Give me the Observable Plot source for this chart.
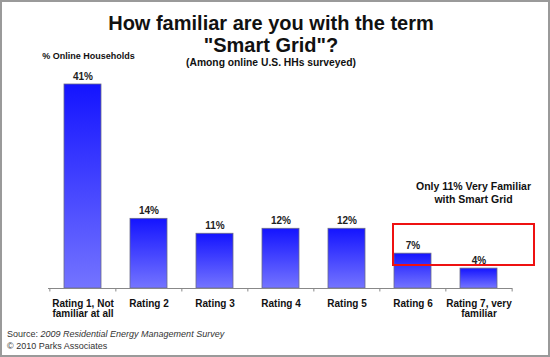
<!DOCTYPE html>
<html><head><meta charset="utf-8">
<script src="https://cdn.jsdelivr.net/npm/d3@7"></script>
<script src="https://cdn.jsdelivr.net/npm/@observablehq/plot@0.6"></script>
<style>
body{margin:0;background:#fff;}
#wrap{position:relative;width:550px;height:357px;overflow:hidden;font-family:"Liberation Sans",Arial,sans-serif;}
#frame{position:absolute;left:0;top:0;width:550px;height:357px;box-sizing:border-box;border:2px solid #9a9a9a;pointer-events:none;}
.t{position:absolute;white-space:nowrap;color:#111;}
#title{left:0;width:542px;top:12px;text-align:center;font-weight:bold;font-size:20px;line-height:22px;}
#sub{left:0;width:542px;top:57px;text-align:center;font-weight:bold;font-size:10.3px;line-height:12px;}
#ylab{left:40px;width:97px;top:51px;text-align:center;font-weight:bold;font-size:9px;}
#note{left:403px;width:141px;top:180px;text-align:center;font-weight:bold;font-size:10.5px;line-height:13px;}
#box{position:absolute;left:392px;top:223px;width:143px;height:43px;box-sizing:border-box;border:2px solid #ee1111;}
#src{left:7px;top:329px;font-size:9px;line-height:11.5px;color:#333;}
#chart{position:absolute;left:0;top:0;}
</style></head>
<body>
<div id="wrap">
  <div id="chart"></div>
  <div class="t" id="title">How familiar are you with the term<br>"Smart Grid"?</div>
  <div class="t" id="sub">(Among online U.S. HHs surveyed)</div>
  <div class="t" id="ylab">% Online Households</div>
  <div class="t" id="note">Only 11% Very Familiar<br>with Smart Grid</div>
  <div id="box"></div>
  <div class="t" id="src">Source: <i>2009 Residential Energy Management Survey</i><br>© 2010 Parks Associates</div>
  <div id="frame"></div>
</div>
<script>
const categories = ["Rating 1, Not\nfamiliar at all","Rating 2","Rating 3","Rating 4","Rating 5","Rating 6","Rating 7, very\nfamiliar"];
const values = [41, 14, 11, 12, 12, 7, 4];
const labels = ["41%","14%","11%","12%","12%","7%","4%"];

const data = categories.map((c,i)=>({cat:c, v:values[i], lab:labels[i]}));
const W = 550, H = 357, mL = 48, mR = 38;
const band = (W - mL - mR) / categories.length;

const plot = Plot.plot({
  width: W, height: H,
  marginTop: 84, marginBottom: 69, marginLeft: mL, marginRight: mR,
  style: {fontFamily: '"Liberation Sans", Arial, sans-serif', background: "transparent"},
  x: {domain: categories, paddingInner: 0.44, paddingOuter: 0.22, align: 0.5, label: null},
  y: {domain: [0, 41], axis: null},
  marks: [
    Plot.barY(data, {x: "cat", y: "v", fill: "url(#barGrad)", stroke: "#6a6a8a", strokeWidth: 0.8}),
    Plot.ruleY([0], {stroke: "#888", strokeWidth: 1}),
    Plot.ruleX(categories, {x: d => d, y1: 0, y2: -0.7, dx: -band/2, stroke: "#888"}),
    Plot.ruleX([categories[categories.length-1]], {x: d => d, y1: 0, y2: -0.7, dx: band/2, stroke: "#888"}),
    Plot.text(data, {x: "cat", y: "v", text: "lab", dy: -5, lineAnchor: "bottom", fontWeight: "bold", fontSize: 10, fill: "#222"}),
    Plot.axisX({tickSize: 0, tickPadding: 11, fontWeight: "bold", fontSize: 10, lineAnchor: "top", label: null, fill: "#111"})
  ]
});
const svg = d3.select(plot);
const defs = svg.insert("defs", ":first-child");
const g = defs.append("linearGradient").attr("id","barGrad").attr("x1",0).attr("y1",0).attr("x2",0).attr("y2",1);
g.append("stop").attr("offset","0%").attr("stop-color","#1414ff");
g.append("stop").attr("offset","100%").attr("stop-color","#7474ff");
document.getElementById("chart").appendChild(plot);
</script>
</body></html>
